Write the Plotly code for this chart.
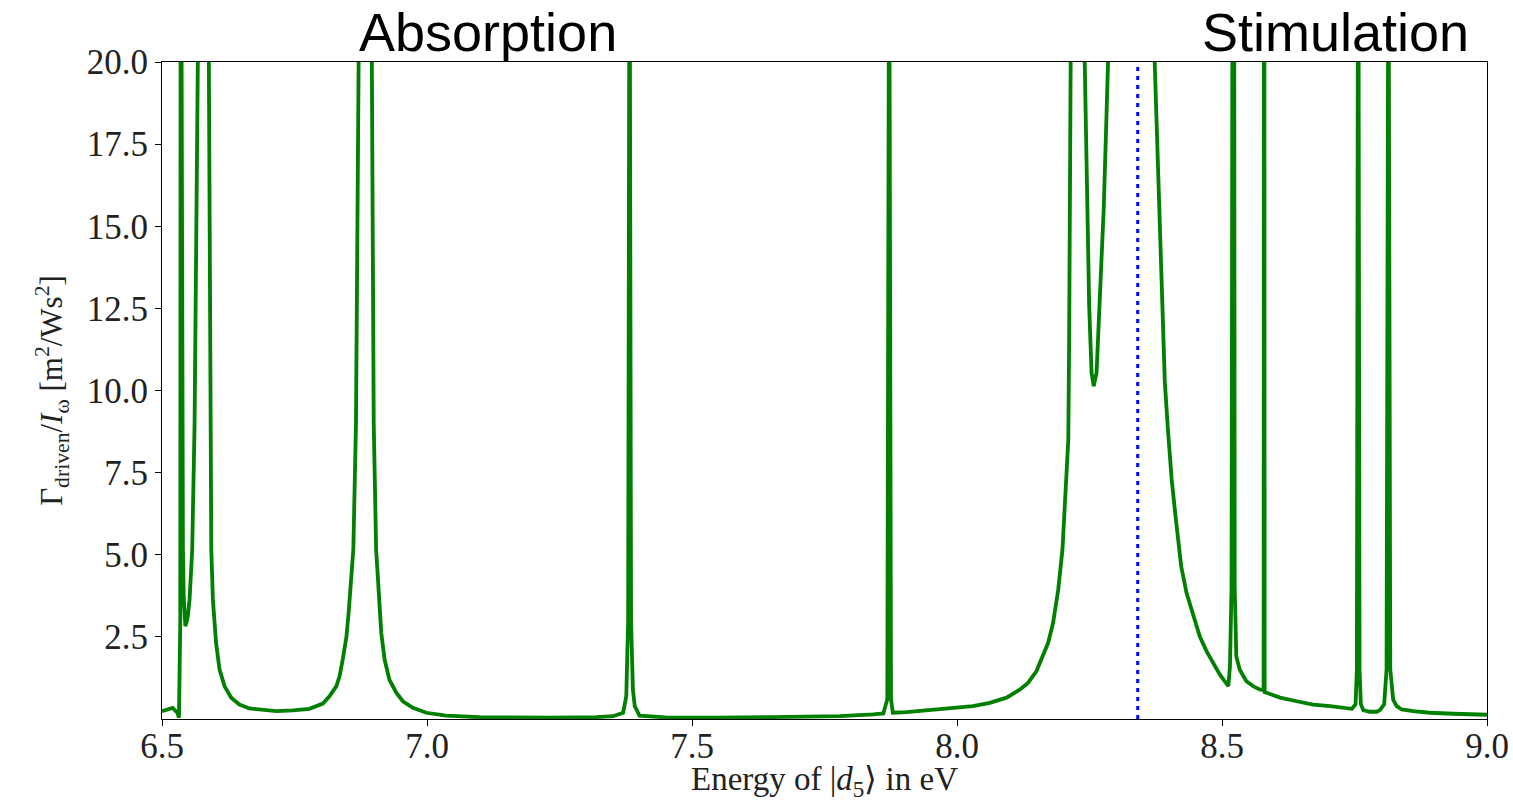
import plotly.graph_objects as go

# Driven rate spectrum (values above 20 are clipped by the axis range)
energy_ev = [
    6.500, 6.510, 6.520, 6.529, 6.532, 6.5345, 6.5355, 6.5362, 6.5370, 6.5385,
    6.5395, 6.541, 6.5425, 6.544, 6.5465, 6.5487, 6.552, 6.555, 6.557, 6.5615,
    6.5676, 6.576, 6.588, 6.5905, 6.593, 6.596, 6.602, 6.6085, 6.618, 6.6306,
    6.646, 6.665, 6.716, 6.747, 6.778, 6.8035, 6.816, 6.829, 6.835, 6.841,
    6.848, 6.8526, 6.857, 6.861, 6.866, 6.871, 6.883, 6.895, 6.8995, 6.904,
    6.909, 6.9137, 6.920, 6.929, 6.942, 6.9545, 6.9734, 6.9987, 7.036, 7.099,
    7.150, 7.238, 7.320, 7.351, 7.370, 7.376, 7.3795, 7.3815, 7.3822, 7.3829,
    7.3850, 7.3885, 7.392, 7.401, 7.450, 7.552, 7.650, 7.779, 7.8417, 7.861,
    7.8685, 7.8712, 7.8720, 7.8728, 7.8755, 7.879, 7.9047, 7.968, 8.030, 8.062,
    8.0935, 8.119, 8.134, 8.150, 8.162, 8.172, 8.1814, 8.191, 8.199, 8.205,
    8.210, 8.2116, 8.2143, 8.216, 8.228, 8.241, 8.2445, 8.2494, 8.2539, 8.258,
    8.2633, 8.2695, 8.277, 8.285, 8.330, 8.373, 8.3776, 8.3828, 8.3875, 8.392,
    8.398, 8.405, 8.413, 8.423, 8.433, 8.4457, 8.458, 8.471, 8.483, 8.496,
    8.512, 8.515, 8.518, 8.5195, 8.5210, 8.5225, 8.524, 8.527, 8.5335, 8.546,
    8.5587, 8.571, 8.5785, 8.5795, 8.5805, 8.584, 8.6094, 8.641, 8.672, 8.704,
    8.7352, 8.745, 8.752, 8.7545, 8.7562, 8.7570, 8.7578, 8.7595, 8.762, 8.7665,
    8.779, 8.792, 8.798, 8.806, 8.8105, 8.8132, 8.8140, 8.8148, 8.8175, 8.823,
    8.8296, 8.839, 8.861, 8.892, 8.9364, 8.987, 9.000,
]
gamma_rate = [
    0.24, 0.30, 0.34, 0.19, 0.04, 3.0, 20.0, 60.0, 20.0, 7.0,
    5.16, 3.7, 3.0, 2.83, 2.95, 3.13, 3.64, 4.35, 5.16, 9.0,
    20.0, 60.0, 20.0, 9.0, 5.16, 3.64, 2.32, 1.51, 1.0, 0.65,
    0.44, 0.32, 0.24, 0.26, 0.31, 0.47, 0.69, 1.0, 1.3, 1.81,
    2.5, 3.33, 4.15, 5.16, 9.0, 20.0, 60.0, 20.0, 9.0, 5.16,
    3.64, 2.62, 1.81, 1.2, 0.8, 0.54, 0.34, 0.19, 0.10, 0.055,
    0.05, 0.04, 0.06, 0.085, 0.19, 0.7, 3.0, 20.0, 60.0, 20.0,
    3.0, 0.9, 0.39, 0.10, 0.05, 0.04, 0.06, 0.085, 0.14, 0.17,
    0.6, 20.0, 60.0, 20.0, 0.6, 0.19, 0.21, 0.29, 0.39, 0.49,
    0.65, 0.90, 1.1, 1.46, 1.9, 2.32, 2.93, 3.94, 5.16, 6.8,
    8.5, 11.55, 16.6, 20.0, 60.0, 20.0, 16.6, 12.57, 10.54, 10.13,
    10.54, 12.57, 15.6, 20.0, 60.0, 20.0, 17.6, 14.6, 12.2, 10.3,
    8.8, 7.3, 6.07, 4.65, 3.84, 3.13, 2.52, 2.06, 1.71, 1.35,
    1.0, 1.6, 4.0, 20.0, 60.0, 20.0, 4.0, 1.9, 1.5, 1.15,
    1.0, 0.9, 0.88, 40.0, 0.82, 0.80, 0.65, 0.54, 0.44, 0.39,
    0.33, 0.31, 0.45, 1.5, 20.0, 60.0, 20.0, 1.5, 0.45, 0.27,
    0.22, 0.22, 0.27, 0.45, 1.5, 20.0, 60.0, 20.0, 1.5, 0.59,
    0.39, 0.29, 0.24, 0.19, 0.16, 0.14, 0.13,
]

# Reference photon energy marker
marker_x = [8.341, 8.341]
marker_y = [0.0, 20.0]

x_ticks = [6.5, 7.0, 7.5, 8.0, 8.5, 9.0]
x_tick_labels = ["6.5", "7.0", "7.5", "8.0", "8.5", "9.0"]
y_ticks = [2.5, 5.0, 7.5, 10.0, 12.5, 15.0, 17.5, 20.0]
y_tick_labels = ["2.5", "5.0", "7.5", "10.0", "12.5", "15.0", "17.5", "20.0"]

serif = "Liberation Serif"

fig = go.Figure()
fig.add_trace(go.Scatter(
    x=marker_x, y=marker_y, mode="lines",
    line=dict(color="#0000ff", width=3, dash="4px,5px"),
    hoverinfo="skip", showlegend=False,
))
fig.add_trace(go.Scatter(
    x=energy_ev, y=gamma_rate, mode="lines",
    line=dict(color="#008000", width=3.8),
    showlegend=False,
))

axis_common = dict(
    showline=True, linecolor="black", linewidth=1.2, mirror=True,
    ticks="outside", ticklen=6, tickwidth=1.2, tickcolor="black",
    showgrid=False, zeroline=False, automargin=False,
    tickfont=dict(family=serif, size=35, color="#222"),
)

fig.update_layout(
    width=1513, height=804,
    margin=dict(l=162, r=26, t=62, b=85),
    plot_bgcolor="white", paper_bgcolor="white",
    xaxis=dict(
        range=[6.5, 9.0], tickvals=x_ticks, ticktext=x_tick_labels,
        ticklabelstandoff=-10,
        **axis_common,
    ),
    yaxis=dict(
        range=[0, 20], tickvals=y_ticks, ticktext=y_tick_labels,
        title=dict(text="Γ<sub>driven</sub>/<i>I</i><sub>ω</sub> [m<sup>2</sup>/Ws<sup>2</sup>]",
                   font=dict(family=serif, size=31, color="#222"), standoff=14),
        **axis_common,
    ),
    annotations=[
        dict(text="Energy of |<i>d</i><sub>5</sub>⟩ in eV", x=0.5, y=0.0,
             xref="paper", yref="paper", xanchor="center", yanchor="middle",
             yshift=-62, showarrow=False,
             font=dict(family=serif, size=33, color="#222")),
        dict(text="Absorption", x=0.2458, y=1.0, xref="paper", yref="paper",
             xanchor="center", yanchor="middle", yshift=30, showarrow=False,
             font=dict(family="Liberation Sans", size=54, color="black")),
        dict(text="Stimulation", x=0.886, y=1.0, xref="paper", yref="paper",
             xanchor="center", yanchor="middle", yshift=30, showarrow=False,
             font=dict(family="Liberation Sans", size=54, color="black")),
    ],
)

fig.write_html("out.html")
